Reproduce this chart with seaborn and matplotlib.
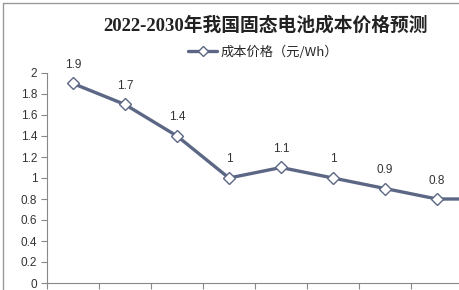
import matplotlib
matplotlib.use("Agg")
import matplotlib.pyplot as plt
from matplotlib.lines import Line2D
import seaborn as sns
import pandas as pd

years = ["2022", "2023", "2024", "2025", "2026", "2027", "2028", "2029", "2030"]
costs = [1.9, 1.7, 1.4, 1.0, 1.1, 1.0, 0.9, 0.8, 0.8]
label_texts = ["1.9", "1.7", "1.4", "1", "1.1", "1", "0.9", "0.8", "0.8"]
yticks = [0, 0.2, 0.4, 0.6, 0.8, 1, 1.2, 1.4, 1.6, 1.8, 2]
ytick_labels = ["0", "0.2", "0.4", "0.6", "0.8", "1", "1.2", "1.4", "1.6", "1.8", "2"]
title = "2022-2030年我国固态电池成本价格预测"
series_name = "成本价格（元/Wh）"

sns.set_theme(style="white")
plt.rcParams['font.family'] = ['Liberation Sans', 'Noto Sans CJK SC', 'DejaVu Sans']

df = pd.DataFrame({"year": years, "cost": costs})
df["x"] = range(len(years))

W, H = 460, 290
fig = plt.figure(figsize=(W / 100, H / 100), dpi=100)
# axes: left at 47px, 0 at y=283, 2 at y=73; category width 52px
ax = fig.add_axes([47 / W, (H - 283) / H, 52 * 9 / W, 210 / H])

line_color = "#5b6784"
sns.lineplot(data=df, x="x", y="cost", ax=ax, color=line_color, linewidth=2.4,
             marker="D", markersize=6.5, markerfacecolor="white",
             markeredgecolor=line_color, markeredgewidth=1.0, legend=False)

# data labels (the last one lies outside the cropped picture, as in the reference)
for xi, v, t in list(zip(df["x"], costs, label_texts))[:-1]:
    ax.annotate(t, (xi, v), xytext=(0, 9), textcoords="offset points",
                ha="center", va="bottom", fontsize=8.5, color="#333333")

ax.set_xlim(-0.5, 8.5)
ax.set_ylim(0, 2)
ax.set_yticks(yticks)
ax.set_yticklabels(ytick_labels, fontsize=8.5, color="#333333")
ax.set_xticks([i - 0.5 for i in range(10)])
ax.set_xticklabels([])
ax.tick_params(axis="y", length=4, width=0.8, color="#888888", pad=3, left=True)
ax.tick_params(axis="x", length=4, width=0.8, color="#888888", bottom=True)
ax.set_xlabel("")
ax.set_ylabel("")
for s in ["top", "right"]:
    ax.spines[s].set_visible(False)
for s in ["left", "bottom"]:
    ax.spines[s].set_color("#888888")
    ax.spines[s].set_linewidth(0.8)

fig.text(266 / W, 1 - 25 / H, title, ha="center", va="center", fontsize=13.5,
         fontweight="bold", color="#222222",
         family=['Liberation Serif', 'Noto Sans CJK SC', 'DejaVu Sans'])

# legend
handle = Line2D([], [], color=line_color, linewidth=2.4, marker="D", markersize=5.5,
                markerfacecolor="white", markeredgecolor=line_color, markeredgewidth=1.0)
fig.legend([handle], [series_name], loc="center", bbox_to_anchor=(263 / W, 1 - 52 / H),
           frameon=False, handlelength=2.2, handletextpad=0.2,
           prop={"family": ['Noto Sans CJK SC', 'DejaVu Sans'], "size": 9.5})

# outer frame lines of the chart (cropped)
fig.add_artist(Line2D([3 / W, 3 / W], [0, 1 - 3 / H], transform=fig.transFigure,
                      color="#999999", linewidth=1.0))
fig.add_artist(Line2D([3 / W, 1], [1 - 3 / H, 1 - 3 / H], transform=fig.transFigure,
                      color="#999999", linewidth=1.0))

fig.savefig("out.png", dpi=100)
